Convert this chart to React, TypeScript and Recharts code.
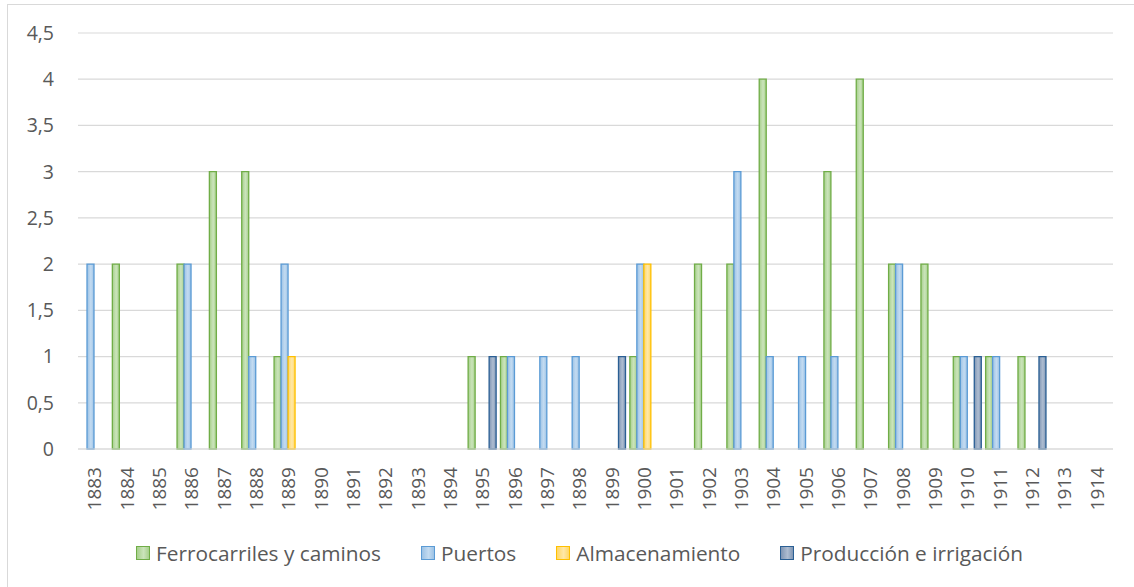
import React from "react";
import { BarChart, Bar, XAxis, YAxis, CartesianGrid } from "recharts";

const years = [
  "1883", "1884", "1885", "1886", "1887", "1888", "1889", "1890",
  "1891", "1892", "1893", "1894", "1895", "1896", "1897", "1898",
  "1899", "1900", "1901", "1902", "1903", "1904", "1905", "1906",
  "1907", "1908", "1909", "1910", "1911", "1912", "1913", "1914",
];

// null = no works that year (Excel leaves the slot empty)
const ferrocarriles = [
  null, 2, null, 2, 3, 3, 1, null, null, null, null, null, 1, 1, null, null,
  null, 1, null, 2, 2, 4, null, 3, 4, 2, 2, 1, 1, 1, null, null,
];
const puertos = [
  2, null, null, 2, null, 1, 2, null, null, null, null, null, null, 1, 1, 1,
  null, 2, null, null, 3, 1, 1, 1, null, 2, null, 1, 1, null, null, null,
];
const almacenamiento = [
  null, null, null, null, null, null, 1, null, null, null, null, null, null, null, null, null,
  null, 2, null, null, null, null, null, null, null, null, null, null, null, null, null, null,
];
const produccion = [
  null, null, null, null, null, null, null, null, null, null, null, null, 1, null, null, null,
  1, null, null, null, null, null, null, null, null, null, null, 1, null, 1, null, null,
];

const yTicks = [0, 0.5, 1, 1.5, 2, 2.5, 3, 3.5, 4, 4.5];

const series = [
  { key: "Ferrocarriles y caminos", values: ferrocarriles, stroke: "#70ad47", edge: "#a6cf8b", mid: "#cbe4bb", id: "gGreen" },
  { key: "Puertos", values: puertos, stroke: "#5b9bd5", edge: "#9cc2e5", mid: "#c3dbf1", id: "gBlue" },
  { key: "Almacenamiento", values: almacenamiento, stroke: "#ffc000", edge: "#ffd766", mid: "#ffe8a8", id: "gYellow" },
  { key: "Producción e irrigación", values: produccion, stroke: "#2a5f94", edge: "#7f95b3", mid: "#aebdd1", id: "gNavy" },
];

const data = years.map((year, i) => {
  const row: Record<string, string | number | null> = { year };
  series.forEach((s) => {
    row[s.key] = s.values[i];
  });
  return row;
});

const FONT = "'Open Sans', sans-serif";
const TEXT = "#595959";
const GRID = "#d9d9d9";

const YearTick = (props: any) => {
  const { x, y, payload } = props;
  return (
    <text
      transform={`translate(${x},${y + 18}) rotate(-90)`}
      textAnchor="end"
      dominantBaseline="central"
      fill={TEXT}
      fontSize={19}
      fontFamily={FONT}
    >
      {payload.value}
    </text>
  );
};

const fmt = (v: number) => String(v).replace(".", ",");

export default function App() {
  return (
    <div
      style={{
        position: "fixed",
        left: 0,
        top: 0,
        width: 1134,
        height: 587,
        background: "#fff",
        fontFamily: FONT,
      }}
    >
      <div
        style={{
          position: "absolute",
          left: 7,
          top: 4,
          width: 1130,
          height: 585,
          border: `1px solid ${GRID}`,
          boxSizing: "border-box",
        }}
      />
      <div style={{ position: "absolute", left: 0, top: 0 }}>
        <BarChart
          width={1134}
          height={587}
          data={data}
          margin={{ top: 33, right: 21, left: 18, bottom: 68 }}
          barSize={7}
          barGap={0}
        >
          <defs>
            {series.map((s) => (
              <linearGradient key={s.id} id={s.id} x1="0" y1="0" x2="1" y2="0">
                <stop offset="0%" stopColor={s.edge} />
                <stop offset="55%" stopColor={s.mid} />
                <stop offset="100%" stopColor={s.edge} />
              </linearGradient>
            ))}
          </defs>
          <CartesianGrid vertical={false} stroke={GRID} strokeWidth={1.2} />
          <XAxis
            dataKey="year"
            interval={0}
            height={70}
            tickLine={false}
            tickSize={0}
            tickMargin={0}
            axisLine={{ stroke: GRID, strokeWidth: 1.2 }}
            tick={<YearTick />}
          />
          <YAxis
            width={60}
            domain={[0, 4.5]}
            ticks={yTicks}
            axisLine={false}
            tickLine={false}
            tickSize={0}
            tickMargin={24}
            tickFormatter={fmt}
            tick={{ fill: TEXT, fontSize: 19.5, fontFamily: FONT }}
          />
          {series.map((s) => (
            <Bar
              key={s.key}
              dataKey={s.key}
              fill={`url(#${s.id})`}
              stroke={s.stroke}
              strokeWidth={1.3}
              isAnimationActive={false}
            />
          ))}
        </BarChart>
      </div>
      <div
        style={{
          position: "absolute",
          left: 136,
          top: 542,
          height: 22,
          display: "flex",
          alignItems: "center",
          gap: 40,
          color: TEXT,
          fontSize: 20.8,
          whiteSpace: "nowrap",
        }}
      >
        {series.map((s) => (
          <div key={s.key} style={{ display: "flex", alignItems: "center", gap: 6 }}>
            <span
              style={{
                display: "inline-block",
                width: 12,
                height: 12,
                border: `1.5px solid ${s.stroke}`,
                background: `linear-gradient(90deg, ${s.edge}, ${s.mid} 55%, ${s.edge})`,
              }}
            />
            <span>{s.key}</span>
          </div>
        ))}
      </div>
    </div>
  );
}
